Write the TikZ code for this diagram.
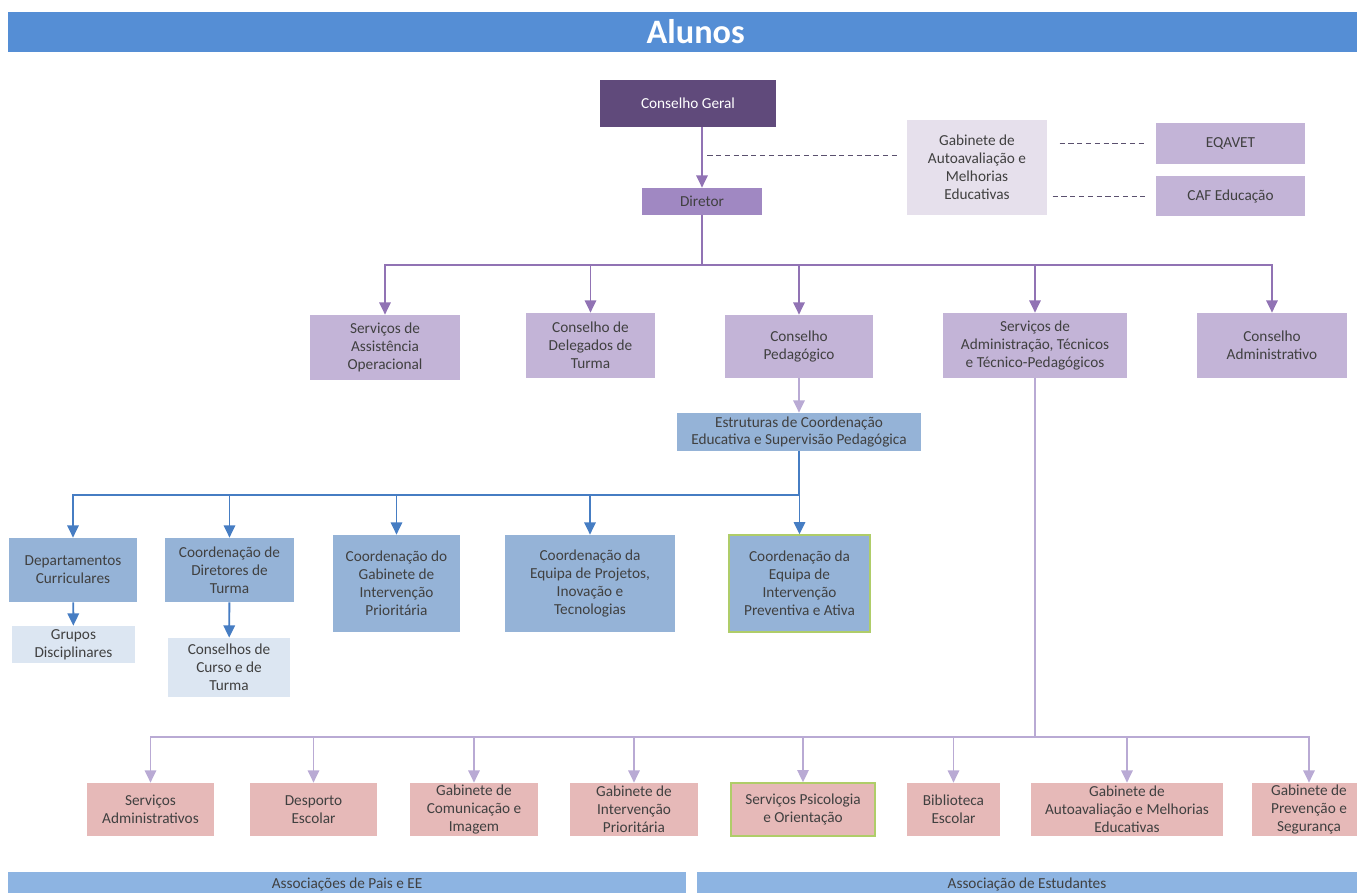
\documentclass[tikz,border=0pt]{standalone}
\usepackage{fontspec}
\setmainfont{Carlito}
\usetikzlibrary{arrows.meta}

\definecolor{banner}{RGB}{85,142,213}
\definecolor{cgeral}{RGB}{96,74,123}
\definecolor{diretor}{RGB}{160,136,194}
\definecolor{lilac}{RGB}{195,180,215}
\definecolor{palelilac}{RGB}{230,224,236}
\definecolor{steel}{RGB}{149,179,215}
\definecolor{paleblue}{RGB}{220,230,242}
\definecolor{rose}{RGB}{230,185,184}
\definecolor{barblue}{RGB}{141,180,226}
\definecolor{txtgray}{RGB}{64,64,64}
\definecolor{purpleline}{RGB}{145,115,180}
\definecolor{lightline}{RGB}{185,170,212}
\definecolor{blueline}{RGB}{70,125,195}
\definecolor{greenedge}{RGB}{175,205,105}
\definecolor{dashgray}{RGB}{90,80,110}

\begin{document}
\begin{tikzpicture}[x=0.02cm, y=-0.02cm,
    box/.style={align=center, inner sep=1pt, text=txtgray,
                font=\fontsize{8.7}{10.2}\selectfont},
    parr/.style={draw=purpleline, line width=1pt, -{Triangle[width=6.5pt,length=7pt]}},
    larr/.style={draw=lightline, line width=1pt, -{Triangle[width=6.5pt,length=7pt]}},
    barr/.style={draw=blueline, line width=1.1pt, -{Triangle[width=6.5pt,length=7pt]}},
    dashln/.style={draw=dashgray, line width=0.5pt, dash pattern=on 3pt off 2pt}]
    % page size
    \useasboundingbox (0,0) rectangle (1357,893);

    % title bar
    \node[box, fill=banner, minimum width=26.98cm, minimum height=0.8cm,
          text=white, font=\fontsize{19.5}{22}\bfseries] (alunos) at (682.5,32) {\hspace*{15pt}Alunos};

    % top of the tree
    \node[box, fill=cgeral, text=white, minimum width=3.52cm, minimum height=0.94cm] (cg) at (688,103.5) {Conselho Geral};
    \node[box, fill=diretor, minimum width=2.4cm, minimum height=0.54cm] (dir) at (702,201.5) {Diretor};
    \draw[parr] (cg.south -| dir) -- (dir.north);

    % self evaluation
    \node[box, fill=palelilac, minimum width=2.8cm, minimum height=1.9cm] (gab) at (977,167.5) {Gabinete de\\Autoavaliação e\\Melhorias\\Educativas};
    \node[box, fill=lilac, minimum width=2.98cm, minimum height=0.82cm] (eqavet) at (1230.5,143.5) {EQAVET};
    \node[box, fill=lilac, minimum width=2.98cm, minimum height=0.8cm] (caf) at (1230.5,196) {CAF Educação};
    \coordinate (cgd) at (702,155);
    \draw[dashln, shorten <=3pt, shorten >=5pt] (cgd) -- (gab.west |- cgd);
    \draw[dashln, shorten <=7pt, shorten >=6pt] (gab.east |- eqavet) -- (eqavet.west);
    \draw[dashln, shorten <=3pt, shorten >=6pt] (gab.east |- caf) -- (caf.west);

    % second level
    \node[box, fill=lilac, minimum width=3cm, minimum height=1.3cm] (sao) at (385,347.5) {Serviços de\\Assistência\\Operacional};
    \node[box, fill=lilac, minimum width=2.58cm, minimum height=1.3cm] (cdt) at (590.5,345.5) {Conselho de\\Delegados de\\Turma};
    \node[box, fill=lilac, minimum width=2.96cm, minimum height=1.26cm] (cp) at (799,346.5) {Conselho\\Pedagógico};
    \node[box, fill=lilac, minimum width=3.68cm, minimum height=1.3cm] (sat) at (1035,345.5) {Serviços de\\Administração, Técnicos\\e Técnico-Pedagógicos};
    \node[box, fill=lilac, minimum width=3cm, minimum height=1.3cm] (ca) at (1272,345.5) {Conselho\\Administrativo};
    \coordinate (bus) at (702,265);
    \draw[draw=purpleline, line width=1pt] (dir.south) -- (bus);
    \foreach \n in {sao,cdt,cp,sat,ca}
        \draw[parr] (bus) -| (\n.north);

    % pedagogical structures
    \node[box, fill=steel, minimum width=4.88cm, minimum height=0.76cm] (est) at (799,432) {Estruturas de Coordenação\\Educativa e Supervisão Pedagógica};
    \draw[larr] (cp) -- (est);

    \node[box, fill=steel, minimum width=2.56cm, minimum height=1.28cm] (dc) at (73,570) {Departamentos\\Curriculares};
    \node[box, fill=steel, minimum width=2.58cm, minimum height=1.28cm] (cdtu) at (229.5,570) {Coordenação de\\Diretores de\\Turma};
    \node[box, fill=steel, minimum width=2.54cm, minimum height=1.94cm] (cgip) at (396.5,583.5) {Coordenação do\\Gabinete de\\Intervenção\\Prioritária};
    \node[box, fill=steel, minimum width=3.4cm, minimum height=1.94cm] (cepit) at (590,583.5) {Coordenação da\\Equipa de Projetos,\\Inovação e\\Tecnologias};
    \node[box, fill=steel, draw=greenedge, line width=0.8pt, minimum width=2.82cm, minimum height=1.94cm] (ceipa) at (799.5,583.5) {Coordenação da\\Equipa de\\Intervenção\\Preventiva e Ativa};
    \coordinate (bbus) at (799,495);
    \draw[draw=blueline, line width=1.4pt] (est.south) -- (bbus);
    \foreach \n in {dc,cdtu,cgip,cepit,ceipa}
        \draw[barr] (bbus) -| (\n.north);

    \node[box, fill=paleblue, minimum width=2.46cm, minimum height=0.74cm] (gd) at (73.5,644.5) {Grupos\\Disciplinares};
    \node[box, fill=paleblue, minimum width=2.44cm, minimum height=1.18cm] (cct) at (229,667.5) {Conselhos de\\Curso e de\\Turma};
    \draw[barr] (dc) -- (gd);
    \draw[barr] (cdtu) -- (cct);

    % services
    \node[box, fill=rose, minimum width=2.54cm, minimum height=1.06cm] (sa) at (150.5,809.5) {Serviços\\Administrativos};
    \node[box, fill=rose, minimum width=2.54cm, minimum height=1.06cm] (de) at (313.5,809.5) {Desporto\\Escolar};
    \node[box, fill=rose, minimum width=2.56cm, minimum height=1.06cm] (gci) at (474,809.5) {Gabinete de\\Comunicação e\\Imagem};
    \node[box, fill=rose, minimum width=2.56cm, minimum height=1.06cm] (gip) at (634,809.5) {Gabinete de\\Intervenção\\Prioritária};
    \node[box, fill=rose, draw=greenedge, line width=0.8pt, minimum width=2.88cm, minimum height=1.06cm] (spo) at (803,809.5) {Serviços Psicologia\\e Orientação};
    \node[box, fill=rose, minimum width=1.86cm, minimum height=1.06cm] (be) at (953.5,809.5) {Biblioteca\\Escolar};
    \node[box, fill=rose, minimum width=3.84cm, minimum height=1.06cm] (gam) at (1127,809.5) {Gabinete de\\Autoavaliação e Melhorias\\Educativas};
    \node[box, fill=rose, minimum width=2.28cm, minimum height=1.06cm] (gps) at (1309,809.5) {Gabinete de\\Prevenção e\\Segurança};
    \coordinate (lbus) at (1035,737);
    \draw[draw=lightline, line width=1pt] (sat.south) -- (lbus);
    \foreach \n in {sa,de,gci,gip,spo,be,gam,gps}
        \draw[larr] (lbus) -| (\n.north);

    % associations
    \node[box, fill=barblue, minimum width=13.56cm, minimum height=0.5cm, anchor=north] (pais) at (347,872) {Associações de Pais e EE};
    \node[box, fill=barblue, minimum width=13.2cm, minimum height=0.5cm, anchor=north] (estud) at (1027,872) {Associação de Estudantes};
\end{tikzpicture}
\end{document}
